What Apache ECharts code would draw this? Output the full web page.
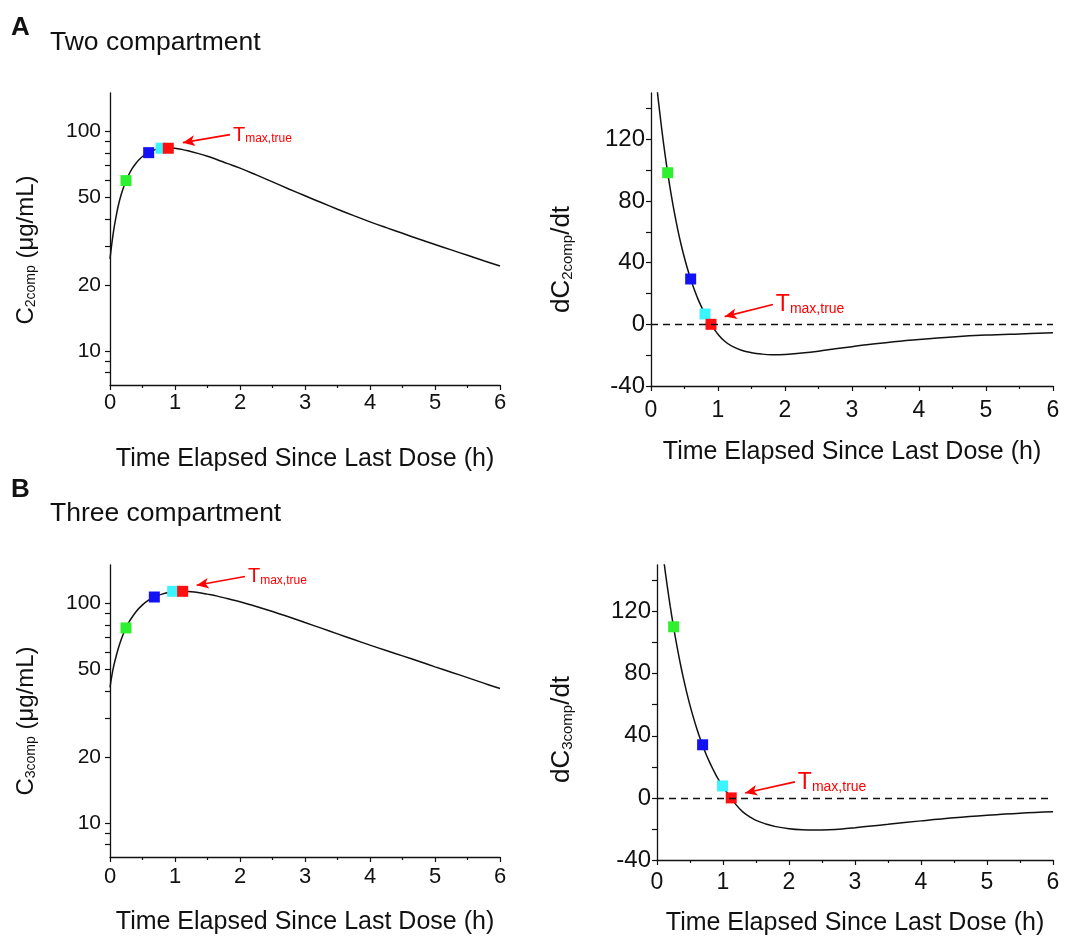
<!DOCTYPE html>
<html><head><meta charset="utf-8">
<script src="https://cdn.jsdelivr.net/npm/echarts@6/dist/echarts.min.js"></script>
<style>html,body{margin:0;padding:0;background:#fff}#c{width:1069px;height:936px}</style>
</head><body><div id="c"></div>
<script>
// ---------- data ----------
const xTickLabels = [0, 1, 2, 3, 4, 5, 6];
const concTickLabels = [10, 20, 50, 100];
const concTicks = [8, 9, 10, 20, 30, 40, 50, 60, 70, 80, 90, 100];
const rateTickLabels = [-40, 0, 40, 80, 120];
const rateTicks = [-40, -20, 0, 20, 40, 60, 80, 100, 120, 140];

const xTitle = 'Time Elapsed Since Last Dose (h)';

// Two compartment: concentration
const time2 = [0,0.05,0.1,0.13,0.17,0.21,0.25,0.3,0.35,0.4,0.45,0.5,0.55,0.6,0.65,0.7,0.75,0.8,0.85,0.9,1.0,1.1,1.2,1.35,1.5,1.65,1.8,2.0,2.25,2.5,2.75,3.0,3.25,3.5,3.75,4.0,4.25,4.5,4.75,5.0,5.25,5.5,5.75,6.0];
const conc2 = [26.3,34.5,42,46.3,51.4,56,60,64.6,68.5,71.8,74.6,77,78.9,80.5,81.8,82.8,83.5,83.9,84.2,84.3,83.9,83.0,81.8,79.6,77.2,74.5,71.7,68.2,63.5,59.0,54.8,51.0,47.5,44.3,41.4,38.8,36.5,34.4,32.4,30.6,28.9,27.3,25.8,24.4];
// Two compartment: derivative
const time2d = [0.09,0.1,0.13,0.17,0.21,0.25,0.3,0.35,0.4,0.45,0.5,0.55,0.6,0.65,0.7,0.75,0.8,0.85,0.9,0.95,1.0,1.1,1.2,1.35,1.5,1.65,1.8,2.0,2.25,2.5,2.75,3.0,3.25,3.5,3.75,4.0,4.5,5.0,5.5,6.0];
const rate2 = [153.4,149,137.6,123.2,110,98,84.4,72.2,61.3,51.6,43,35.2,28.3,22.1,16.5,11.6,7.2,3.2,-0.3,-3.5,-6.5,-11,-14,-16.8,-18.4,-19.3,-19.7,-19.5,-18.6,-17.4,-15.9,-14.5,-13.1,-11.9,-10.8,-9.8,-8.2,-7,-6.2,-5.5];
// Three compartment: concentration
const time3 = [0,0.05,0.11,0.15,0.2,0.25,0.3,0.4,0.5,0.6,0.7,0.8,0.9,1.0,1.125,1.2,1.3,1.4,1.5,1.65,1.8,2.0,2.2,2.4,2.6,2.8,3.0,3.25,3.5,3.75,4.0,4.25,4.5,4.75,5.0,5.25,5.5,5.75,6.0];
const conc3 = [41.5,50.8,59.9,65.7,72.2,78,83.2,91.9,98.7,103.9,107.7,110.5,112.3,113.4,113.8,113.6,112.9,111.9,110.5,108.2,105.5,102,98,94,90,86,82,77.3,72.8,68.6,64.7,61.1,57.8,54.6,51.5,48.7,46,43.4,41];
// Three compartment: derivative
const time3d = [0.1,0.11,0.15,0.2,0.25,0.3,0.35,0.4,0.45,0.5,0.55,0.6,0.65,0.7,0.75,0.8,0.85,0.9,0.95,1.0,1.05,1.1,1.2,1.3,1.4,1.5,1.65,1.8,2.0,2.2,2.4,2.6,2.8,3.0,3.25,3.5,4.0,4.5,5.0,5.5,6.0];
const rate3 = [154,150.5,138,123.5,110.3,98.2,87.2,77.1,68,59.6,52,45,38.6,32.8,27.5,22.7,18.3,14.2,10.6,7.2,4.1,1.4,-4.5,-9,-12,-14.5,-16.8,-18.5,-19.8,-20.5,-20.7,-20.5,-20,-19.2,-18.1,-17,-14.8,-12.8,-11.2,-9.9,-9];

// highlighted sample points (green, blue, cyan, red = Tmax,true)
const mark2T = [0.246, 0.595, 0.785, 0.897];
const mark2C = [59.8, 80.2, 84.0, 84.0];
const mark2dT = [0.249, 0.592, 0.806, 0.896];
const mark2dV = [98.3, 29.4, 6.7, 0];
const mark3T = [0.246, 0.682, 0.964, 1.118];
const mark3C = [77.5, 107.2, 113.8, 113.8];
const mark3dT = [0.252, 0.691, 0.993, 1.125];
const mark3dV = [110.2, 34.2, 7.7, 0];

// Tmax,true arrows: [head, tail] in data units
const arrow2C = [[1.12, 89.1], [1.846, 96.9]];
const arrow2d = [[1.10, 5.0], [1.82, 12.8]];
const arrow3C = [[1.333, 121.2], [2.077, 133]];
const arrow3d = [[1.336, 3.2], [2.09, 10.3]];

// ---------- styles ----------
const FONT = '"Liberation Sans", Arial, Helvetica, sans-serif';
const INK = '#111111';
const RED = '#ff0000';
const MARKER_COLORS = ['#2ef02e', '#1212f5', '#3cf4ff', '#ff1010'];

const grids = [
  {left: 110, top: 93, width: 390, height: 292},
  {left: 651, top: 93, width: 402, height: 293},
  {left: 110, top: 565, width: 390, height: 292},
  {left: 657, top: 565, width: 396, height: 295}
];

function zip(a, b) { return a.map((v, i) => [v, b[i]]); }

function xAxisFor(i, gap, labelSize, labelMargin) {
  return {
    type: 'value', gridIndex: i, min: 0, max: 6, interval: 1,
    name: xTitle, nameLocation: 'middle', nameGap: gap,
    nameTextStyle: {fontFamily: FONT, fontSize: 25, color: INK},
    axisLine: {show: true, onZero: false, lineStyle: {color: INK, width: 1.3}},
    axisTick: {show: true, length: 5, lineStyle: {color: INK, width: 1.2}},
    minorTick: {show: true, splitNumber: 2, length: 3, lineStyle: {color: INK, width: 1.2}},
    axisLabel: {fontFamily: FONT, fontSize: labelSize, color: INK, margin: labelMargin, customValues: xTickLabels},
    splitLine: {show: false}, minorSplitLine: {show: false}
  };
}

function richName(sz, subSz, shift) {
  return {
    fontFamily: FONT, color: INK, fontSize: sz,
    padding: [0, shift * 2, 0, 0],
    rich: {
      m: {fontFamily: FONT, fontSize: sz, color: INK, verticalAlign: 'bottom', lineHeight: sz + 4},
      s: {fontFamily: FONT, fontSize: subSz, color: INK, verticalAlign: 'bottom', lineHeight: sz + 2}
    }
  };
}

function concAxis(i, label, shift) {
  return {
    type: 'log', logBase: 10, gridIndex: i, min: 7, max: 150,
    name: '{m|C}{s|' + label + '}{m| (μg/mL)}', nameLocation: 'middle', nameGap: 72,
    nameTextStyle: richName(24, 14, shift),
    axisLine: {show: true, onZero: false, lineStyle: {color: INK, width: 1.3}},
    axisTick: {show: true, length: 5, customValues: concTicks, lineStyle: {color: INK, width: 1.2}},
    axisLabel: {fontFamily: FONT, fontSize: 21, color: INK, margin: 9, customValues: concTickLabels},
    splitLine: {show: false}
  };
}

function rateAxis(i, label, gap, shift) {
  return {
    type: 'value', gridIndex: i, min: -40, max: 150,
    name: '{m|dC}{s|' + label + '}{m|/dt}', nameLocation: 'middle', nameGap: gap,
    nameTextStyle: richName(26, 15, shift),
    axisLine: {show: true, onZero: false, lineStyle: {color: INK, width: 1.3}},
    axisTick: {show: true, length: 5, customValues: rateTicks, lineStyle: {color: INK, width: 1.2}},
    axisLabel: {fontFamily: FONT, fontSize: 24, color: INK, margin: 6, customValues: rateTickLabels},
    splitLine: {show: false}
  };
}

function curveSeries(i, xs, ys, arrow, tSize, sSize) {
  return {
    type: 'line', xAxisIndex: i, yAxisIndex: i, data: zip(xs, ys),
    showSymbol: false, smooth: 0.4, clip: true, z: 2,
    lineStyle: {color: INK, width: 1.5},
    markLine: {
      silent: true, animation: false,
      symbol: ['arrow', 'none'], symbolSize: [8, 12],
      lineStyle: {color: RED, width: 1.6, type: 'solid'},
      label: {
        show: true, position: 'end', distance: 3,
        formatter: '{t|T}{s|max,true}',
        rich: {
          t: {fontFamily: FONT, fontSize: tSize, color: RED, verticalAlign: 'bottom', lineHeight: tSize + 2},
          s: {fontFamily: FONT, fontSize: sSize, color: RED, verticalAlign: 'bottom', lineHeight: tSize}
        }
      },
      emphasis: {disabled: true},
      data: [[{coord: arrow[0]}, {coord: arrow[1]}]]
    }
  };
}

function markerSeries(i, xs, ys, zeroLine) {
  const s = {
    type: 'scatter', xAxisIndex: i, yAxisIndex: i, data: zip(xs, ys),
    symbol: 'rect', symbolSize: 11, z: 3,
    itemStyle: {color: p => MARKER_COLORS[p.dataIndex], opacity: 1}
  };
  if (zeroLine) {
    s.markLine = {
      silent: true, animation: false, symbol: 'none',
      label: {show: false},
      lineStyle: {color: INK, width: 1.3, type: [7, 5]},
      emphasis: {disabled: true},
      data: [{yAxis: 0}]
    };
  }
  return s;
}

const option = {
  backgroundColor: '#ffffff',
  animation: false,
  grid: grids.map(g => Object.assign({outerBoundsMode: 'none', containLabel: false}, g)),
  xAxis: [xAxisFor(0, 62, 22, 7), xAxisFor(1, 54, 23, 13), xAxisFor(2, 53, 22, 9), xAxisFor(3, 51, 23, 11)],
  yAxis: [concAxis(0, '2comp', 11), rateAxis(1, '2comp', 76, 20), concAxis(2, '3comp', 10), rateAxis(3, '3comp', 82, 17)],
  series: [
    curveSeries(0, time2, conc2, arrow2C, 20, 12),
    markerSeries(0, mark2T, mark2C, false),
    curveSeries(1, time2d, rate2, arrow2d, 23, 14),
    markerSeries(1, mark2dT, mark2dV, true),
    curveSeries(2, time3, conc3, arrow3C, 20, 12),
    markerSeries(2, mark3T, mark3C, false),
    curveSeries(3, time3d, rate3, arrow3d, 23, 14),
    markerSeries(3, mark3dT, mark3dV, true)
  ],
  graphic: [
    {type: 'text', x: 11, y: 28, style: {text: 'A', font: 'bold 26px ' + FONT, fill: INK, verticalAlign: 'middle', textVerticalAlign: 'middle'}},
    {type: 'text', x: 50, y: 43, style: {text: 'Two compartment', font: '26.5px ' + FONT, fill: INK, verticalAlign: 'middle', textVerticalAlign: 'middle'}},
    {type: 'text', x: 11, y: 490, style: {text: 'B', font: 'bold 26px ' + FONT, fill: INK, verticalAlign: 'middle', textVerticalAlign: 'middle'}},
    {type: 'text', x: 50, y: 514, style: {text: 'Three compartment', font: '26.5px ' + FONT, fill: INK, verticalAlign: 'middle', textVerticalAlign: 'middle'}}
  ]
};

const chart = echarts.init(document.getElementById('c'), null, {renderer: 'canvas'});
chart.setOption(option);
</script>
</body></html>
